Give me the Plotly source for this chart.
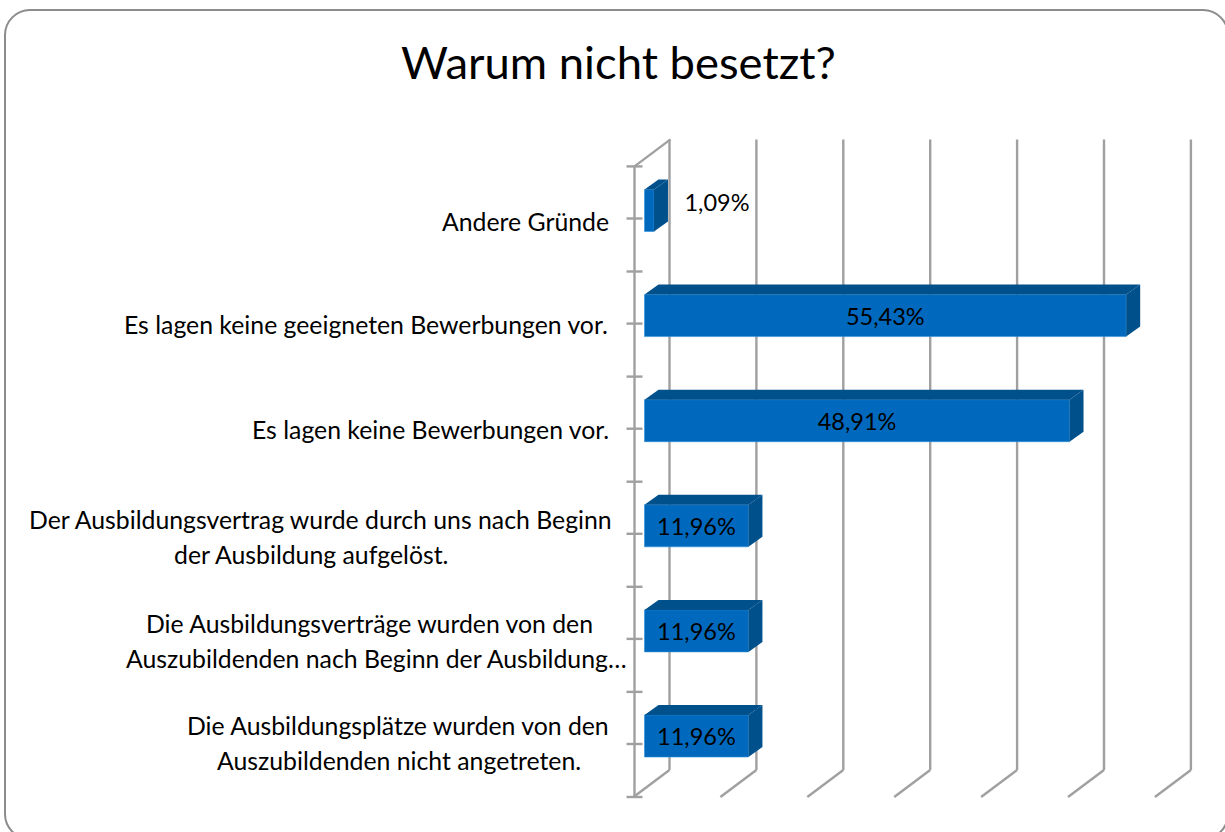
import plotly.graph_objects as go

# ---- data (bottom to top) ----
categories = [
    ["Die Ausbildungsplätze wurden von den", "Auszubildenden nicht angetreten."],
    ["Die Ausbildungsverträge wurden von den", "Auszubildenden nach Beginn der Ausbildung…"],
    ["Der Ausbildungsvertrag wurde durch uns nach Beginn", "der Ausbildung aufgelöst."],
    ["Es lagen keine Bewerbungen vor."],
    ["Es lagen keine geeigneten Bewerbungen vor."],
    ["Andere Gründe"],
]
values = [11.96, 11.96, 11.96, 48.91, 55.43, 1.09]
value_labels = ["11,96%", "11,96%", "11,96%", "48,91%", "55,43%", "1,09%"]
label_centers_px = [[398, 399], [369, 376], [320, 311], [430], [366], [525]]
label_yshifts = [1, -2, -3, -1, -1, -3]
grid_values = [0, 10, 20, 30, 40, 50, 60]
title = "Warum nicht besetzt?"

W, H = 1225, 832
FONT = "Lato, Carlito, Calibri, sans-serif"
FRONT, TOP, SIDE = "#0069BD", "#00508C", "#00508C"
GRID = "#A0A0A0"

# pixel calibration of the plot area
PX_PER_UNIT = 8.69
X0_PX = 644.5
PX_PER_CAT = 105.1
Y0_PX = 736.0
x_range = [(0 - X0_PX) / PX_PER_UNIT, (W - X0_PX) / PX_PER_UNIT]
y_range = [(Y0_PX - H) / PX_PER_CAT, (Y0_PX - 0) / PX_PER_CAT]

DX = 14 / PX_PER_UNIT       # bar depth
DY = 10 / PX_PER_CAT
BAR_W = 42 / PX_PER_CAT
WALL_DX = 36 / PX_PER_UNIT  # chart-wall depth
WALL_DY = 27 / PX_PER_CAT
AXIS_X = (634.5 - X0_PX) / PX_PER_UNIT
GRID_X = (633.5 - X0_PX) / PX_PER_UNIT
AXIS_BOTTOM = (Y0_PX - 797) / PX_PER_CAT
TICK_MID = (Y0_PX - 744) / PX_PER_CAT
N = len(values)

fig = go.Figure()
fig.add_trace(go.Bar(
    x=values, y=list(range(N)), orientation="h", width=BAR_W,
    marker=dict(color=FRONT, line=dict(color="#2E8FD6", width=0.6)),
    hoverinfo="skip", showlegend=False,
))

# 3D faces of each bar
for i, v in enumerate(values):
    t = i + BAR_W / 2
    b = i - BAR_W / 2
    fig.add_trace(go.Scatter(
        x=[0, v, v + DX, DX, 0], y=[t, t, t + DY, t + DY, t],
        mode="lines", fill="toself", fillcolor=TOP, line=dict(width=0, color=TOP),
        hoverinfo="skip", showlegend=False))
    fig.add_trace(go.Scatter(
        x=[v, v + DX, v + DX, v, v], y=[t, t + DY, b + DY, b, t],
        mode="lines", fill="toself", fillcolor=SIDE, line=dict(width=0, color=SIDE),
        hoverinfo="skip", showlegend=False))

# data labels
label_x = [v / 2 if v > 5 else v + 7.25 for v in values]
fig.add_trace(go.Scatter(
    x=label_x, y=[i - 0.03 if values[i] > 5 else i + 0.05 for i in range(N)],
    mode="text", text=value_labels, textposition="middle center",
    textfont=dict(family=FONT, size=23.5, color="#000000"),
    hoverinfo="skip", showlegend=False))

shapes = []
def line(x0, y0, x1, y1, xref="x", yref="y"):
    shapes.append(dict(type="line", x0=x0, y0=y0, x1=x1, y1=y1, xref=xref, yref=yref,
                       layer="below", line=dict(color=GRID, width=2.4)))

# walls: back verticals and floor diagonals
for g in grid_values:
    xf = GRID_X + g
    line(xf + WALL_DX, AXIS_BOTTOM + WALL_DY, xf + WALL_DX, AXIS_BOTTOM + N + WALL_DY)
    line(xf, AXIS_BOTTOM, xf + WALL_DX, AXIS_BOTTOM + WALL_DY)
# top-left wall edge and axis
line(AXIS_X, AXIS_BOTTOM + N, AXIS_X + WALL_DX, AXIS_BOTTOM + N + WALL_DY)
line(AXIS_X, AXIS_BOTTOM, AXIS_X, AXIS_BOTTOM + N)
tick_l = 8 / PX_PER_UNIT
for k in range(N + 1):
    line(AXIS_X - tick_l, AXIS_BOTTOM + k, AXIS_X + tick_l, AXIS_BOTTOM + k)
for k in range(N):
    line(AXIS_X - tick_l, TICK_MID + k, AXIS_X + tick_l, TICK_MID + k)

# rounded frame
def px(x):
    return x / W
def py(y):
    return 1 - y / H
L, T, R, B, C = 5, 10, 1228, 839, 25
K = C * 0.45
def P(x, y):
    return f"{px(x)},{py(y)}"
frame = (f"M {P(L, T+C)} C {P(L, T+K)} {P(L+K, T)} {P(L+C, T)} "
         f"L {P(R-C, T)} C {P(R-K, T)} {P(R, T+K)} {P(R, T+C)} "
         f"L {P(R, B-C)} C {P(R, B-K)} {P(R-K, B)} {P(R-C, B)} "
         f"L {P(L+C, B)} C {P(L+K, B)} {P(L, B-K)} {P(L, B-C)} Z")
shapes.append(dict(type="path", path=frame, xref="paper", yref="paper", layer="below",
                   line=dict(color="#8C8C8C", width=2), fillcolor="rgba(0,0,0,0)"))

# category labels, one annotation per line (wide line spacing)
annotations = []
LABEL_SIZE = 24.8
for i, lines in enumerate(categories):
    yc = TICK_MID + i
    for j, txt in enumerate(lines):
        shift = label_yshifts[i] - (j - (len(lines) - 1) / 2) * 34.5
        annotations.append(dict(
            text=txt, x=px(label_centers_px[i][j]), xref="paper", y=yc, yref="y",
            yshift=shift, xanchor="center", yanchor="middle", showarrow=False,
            font=dict(family=FONT, size=LABEL_SIZE, color="#000000")))
annotations.append(dict(
    text=title, x=px(619), xref="paper", y=py(62), yref="paper", xanchor="center",
    yanchor="middle", showarrow=False,
    font=dict(family=FONT, size=45.4, color="#000000")))

fig.update_layout(
    width=W, height=H, autosize=False,
    margin=dict(l=0, r=0, t=0, b=0, pad=0),
    paper_bgcolor="#FFFFFF", plot_bgcolor="rgba(0,0,0,0)",
    xaxis=dict(range=x_range, visible=False, fixedrange=True, domain=[0, 1]),
    yaxis=dict(range=y_range, visible=False, fixedrange=True, domain=[0, 1]),
    shapes=shapes, annotations=annotations, showlegend=False,
)

fig.write_html("out.html", config={"displayModeBar": False},
               post_script="document.body.style.margin='0';document.body.style.overflow='hidden';")
